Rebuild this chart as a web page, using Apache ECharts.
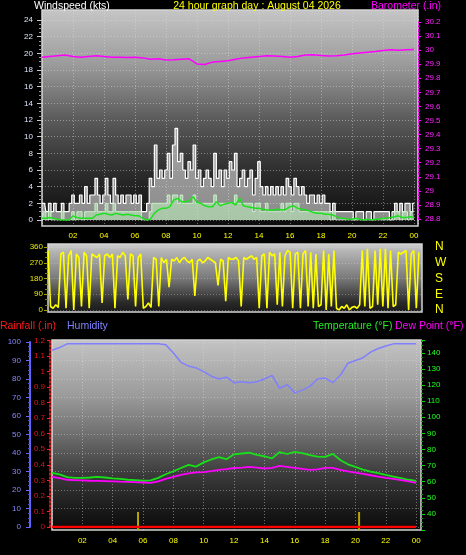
<!DOCTYPE html>
<html><head><meta charset="utf-8">
<script src="https://cdn.jsdelivr.net/npm/echarts@6/dist/echarts.min.js"></script>
<style>html,body{margin:0;padding:0;background:#000;}#c{width:466px;height:555px;}</style>
</head><body><div id="c"></div>
<script>
// ---------- data ----------
const hourLabels = ['02','04','06','08','10','12','14','16','18','20','22','00'];
const dirLetters = ['N','E','S','W','N'];
// wind gust (kts), every 10 minutes 00:00..24:00
const gust = [2,2,1,2,1,2, 1,1,2,1,1,2, 3,2,2,3,2,4, 2,3,3,5,3,2, 3,5,3,2,5,3, 2,3,2,3,3,2,
  3,2,3,1,1,2, 5,4,9,5,6,5, 6,8,5,9,11,7, 8,6,5,7,6,9, 5,6,4,5,6,5, 4,8,5,6,4,6,
  5,7,6,8,4,5, 6,4,5,6,3,5, 7,4,3,4,3,4, 3,4,3,4,3,5, 4,3,5,4,3,4, 3,2,3,3,2,3,
  2,3,2,2,1,2, 1,1,1,1,1,1, 1,0,1,1,1,0, 1,1,0,1,1,1, 1,1,1,0,1,2, 1,2,1,2,2,1,2];
// wind speed (kts), every 10 minutes
const speed = [0,1,0,1,0,0, 0,0,1,0,0,0, 1,0,1,1,0,1, 1,1,1,2,1,1, 1,2,1,1,2,1, 1,1,1,1,1,1,
  1,1,1,0,0,0, 1,2,2,2,2,2, 2,3,2,3,3,2, 3,2,2,2,2,3, 2,2,2,2,2,2, 2,3,2,2,2,2,
  2,2,2,3,2,2, 2,2,2,2,1,2, 2,1,1,2,1,1, 1,1,1,2,1,2, 2,1,2,2,1,1, 1,1,1,1,1,1,
  1,1,1,1,0,1, 0,0,0,0,0,0, 0,0,0,0,0,0, 0,0,0,0,0,0, 0,0,0,0,0,1, 1,0,1,1,0,1,1];
// average wind (kts), every 15 minutes
const avgWind = [0.2,0.2,0.3,0.2, 0.1,0,0,0, 0.5,0.3,0.2,0.2, 0.2,0.2,0.6,0.7, 0.8,0.7,0.6,0.8,
  0.7,0.6,0.7,0.6, 0.5,0.5,0.2,0, 0.1,0.8,1.2,1.4, 1.4,1.6,2.4,2.6, 2.2,2.2,2.3,2.8,
  2.1,2.0,1.7,1.6, 1.6,2.2,1.7,1.9, 2.0,2.1,1.8,2.6, 1.7,1.6,1.5,1.4, 1.4,1.3,1.2,1.2,
  1.2,1.3,1.2,1.3, 1.6,1.7,1.4,1.3, 1.2,1.1,0.9,0.8, 0.8,0.7,0.7,0.6, 0.4,0.2,0.2,0.1,
  0.1,0.2,0.1,0.0, 0.1,0.0,0.1,0.1, 0.2,0.2,0.3,0.4, 0.5,0.3,0.3,0.4, 0.3];
// barometer (in), every 30 minutes
const baro = [29.950,29.955,29.960,29.965,29.955,29.950,29.955,29.960,29.955,29.950,29.950,29.948,
  29.950,29.945,29.935,29.938,29.930,29.932,29.935,29.938,29.902,29.898,29.915,29.920,29.925,
  29.935,29.945,29.950,29.955,29.960,29.958,29.955,29.950,29.955,29.965,29.968,29.962,29.958,
  29.960,29.965,29.975,29.980,29.985,29.990,29.998,30.002,30.000,30.003,30.005];
// wind direction (deg), every 10 minutes
const windDir = [340,20,10,30,15,320, 330,10,310,340,0,320, 300,20,330,310,10,320, 310,300,320,40,310,320,
  300,320,10,310,300,330, 310,60,320,310,20,300, 320,10,20,40,15,300, 290,20,300,270,290,130,
  290,280,300,270,290,300, 280,270,290,80,280,290, 270,280,300,290,280,270, 140,290,280,50,300,290,
  290,300,280,20,300,290, 300,310,290,300,10,310, 320,10,330,310,320,30, 330,20,310,340,330,10,
  320,330,10,320,340,20, 330,10,320,20,30,340, 0,320,20,340,10,0, 20,10,30,0,15,20,
  10,30,340,20,350,10, 20,340,30,350,20,350, 10,340,20,30,330,320, 330,340,0,320,340,10,330];
// every 30 minutes
const humidity = [95.5,97,99,99,99,99,99,99,99,99,99,99,99,99,99,98.5,94,89,87,86,84,81.5,80,81,78,78.5,
  78,78.5,80,82,75,77,72.5,74,76,80,80.5,78,82,88.5,90,91.5,94.5,96.5,97.8,99,99,99,99];
const temperature = [65.5,64.5,62.8,62.4,62.4,62.6,63,62.6,62.0,61.7,61.2,61,60.6,60.8,62.4,64.6,66.5,68.5,
  70.4,69.4,72.0,73.8,75.2,74.0,77.0,77.5,78.0,76.6,75.8,74.5,78.4,77.2,78.5,77.8,76.5,75.6,75.4,77.3,
  73.5,70.8,69.2,67.5,66.2,65.3,64.2,63.2,62.2,61.2,60.5];
const dewPoint = [63.0,62.2,61.2,61.0,60.8,60.6,60.5,60.4,60.2,60.0,59.9,59.7,59.5,59.3,60.2,61.8,63.0,64.2,
  65.2,65.8,66.0,66.6,67.3,67.8,68.5,68.8,69.2,68.8,68.2,68.6,69.8,69.2,68.6,68.0,67.4,67.6,68.6,68.6,
  67.3,66.4,65.6,64.8,64.0,63.2,62.4,61.7,61.0,60.2,59.3];
const rainfall = [0,0,0,0,0,0,0,0,0,0,0,0,0,0,0,0,0,0,0,0,0,0,0,0,0,0,0,0,0,0,0,0,0,0,0,0,0,0,0,0,0,0,0,0,0,0,0,0,0];
const rainEventHours = [5.67, 20.24];
const rainEventValues = [0.095, 0.095];

// ---------- helpers ----------
const F = 'Liberation Sans';
const series10 = a => a.map((v,i)=>[i/6, v]);
const series15 = a => a.map((v,i)=>[i/4, v]);
const series30 = a => a.map((v,i)=>[i/2, v]);
function grad(stops){ return new echarts.graphic.LinearGradient(0,0,0,1, stops.map(s=>({offset:s[0], color:s[1]}))); }
const dotted = c => ({show:true, lineStyle:{color:c, type:[1,2], width:1}});
function hourFmt(v){
  const k = v/2;
  if (v < 1 || Math.abs(k - Math.round(k)) > 1e-6) return '';
  return hourLabels[Math.round(k)-1] || '';
}
const hidden = (g, mn, mx) => ({gridIndex:g, type:'value', min:mn, max:mx, show:false});

const P1 = {left:42, top:10, width:376, height:216};
const P2 = {left:48, top:244, width:374, height:68};
const P3 = {left:52, top:340, width:369, height:190};
const X1 = 24.26, X2 = 24.2, X3 = 24.32;

const chart = echarts.init(document.getElementById('c'), null, {renderer:'canvas'});
chart.setOption({
  backgroundColor:'#000',
  animation:false,
  textStyle:{fontFamily:F},
  grid:[
    Object.assign({show:true, backgroundColor:grad([[0,'#c6c6c6'],[0.25,'#9c9c9c'],[0.5,'#5c5c5c'],[0.75,'#2c2c2c'],[1,'#0c0c0c']]), borderColor:'#d4d4d4', borderWidth:1.5}, P1),
    {left:42, top:20, width:376, height:200},
    {left:42, top:22, width:376, height:197},
    Object.assign({show:true, backgroundColor:grad([[0,'#d0d0d0'],[0.12,'#b4b4b4'],[0.5,'#7a7a7a'],[0.85,'#2a2a2a'],[1,'#181818']]), borderColor:'#d4d4d4', borderWidth:1.5}, P2),
    {left:48, top:247, width:374, height:63},
    Object.assign({show:true, backgroundColor:grad([[0,'#c4c4c4'],[0.3,'#9a9a9a'],[0.5,'#6e6e6e'],[0.7,'#3c3c3c'],[0.9,'#181818'],[1,'#0a0a0a']]), borderColor:'#d4d4d4', borderWidth:1.5}, P3),
    {left:52, top:342, width:369, height:185},
    {left:52, top:340.4, width:369, height:186.6}
  ],
  xAxis:[
    {gridIndex:0, type:'value', min:0, max:X1, interval:2, axisLine:{show:false}, axisTick:{show:false},
     axisLabel:{color:'#ffff00', fontSize:8, margin:6, formatter:hourFmt},
     splitLine:dotted('rgba(225,225,225,0.45)')},
    hidden(1,0,X1), hidden(2,0,X1),
    {gridIndex:3, type:'value', min:0, max:X2, interval:2, axisLine:{show:false}, axisTick:{show:false}, axisLabel:{show:false}, splitLine:{show:false}},
    hidden(4,0,X2),
    {gridIndex:5, type:'value', min:0, max:X3, interval:2, axisLine:{show:false}, axisTick:{show:false},
     axisLabel:{color:'#ffff00', fontSize:8, margin:7, formatter:hourFmt},
     splitLine:dotted('rgba(225,225,225,0.45)')},
    hidden(6,0,X3), hidden(7,0,X3)
  ],
  yAxis:[
    hidden(0,0,1),
    {gridIndex:1, type:'value', min:0, max:24, interval:2, position:'left',
     axisLine:{show:false, onZero:false}, axisTick:{show:true, length:5, lineStyle:{color:'#c8c8c8'}},
     minorTick:{show:true, splitNumber:4, length:3, lineStyle:{color:'#9a9a9a'}},
     axisLabel:{color:'#dde6ff', fontSize:8, margin:9},
     splitLine:dotted('rgba(225,225,225,0.45)')},
    {gridIndex:2, type:'value', min:28.8, max:30.2, interval:0.1, position:'right',
     axisLine:{show:true, onZero:false, lineStyle:{color:'#ff00ff', type:[2,2], width:1}},
     axisTick:{show:true, length:3, lineStyle:{color:'#ff00ff'}},
     minorTick:{show:true, splitNumber:3, length:2, lineStyle:{color:'#c000c0'}},
     axisLabel:{color:'#ff22ff', fontSize:8, margin:7, formatter:v=>String(parseFloat(v.toFixed(1)))},
     splitLine:{show:false}},
    hidden(3,0,1),
    {gridIndex:4, type:'value', min:0, max:360, interval:90, position:'left',
     axisLine:{show:false, onZero:false}, axisTick:{show:true, length:4, lineStyle:{color:'#a0a000'}},
     minorTick:{show:true, splitNumber:3, length:3, lineStyle:{color:'#808000'}},
     axisLabel:{color:'#e6e600', fontSize:8, margin:5},
     splitLine:dotted('rgba(225,225,225,0.35)')},
    {gridIndex:4, type:'value', min:0, max:360, interval:90, position:'right',
     axisLine:{show:false, onZero:false}, axisTick:{show:false}, splitLine:{show:false},
     axisLabel:{color:'#ffff00', fontSize:12, margin:13, formatter:v=>dirLetters[Math.round(v/90)]}},
    {gridIndex:5, type:'value', min:30, max:148, interval:10, position:'right',
     axisLine:{show:true, onZero:false, lineStyle:{color:'#00ff00', type:[2,2], width:1}},
     axisTick:{show:true, length:4, lineStyle:{color:'#00dd00'}},
     minorTick:{show:true, splitNumber:4, length:2, lineStyle:{color:'#00aa00'}},
     axisLabel:{color:'#22ff22', fontSize:8, margin:6, formatter:v=>(v<35||v>145)?'':String(v)},
     splitLine:{show:false}},
    hidden(5,0,1),
    {gridIndex:6, type:'value', min:0, max:100, interval:10, position:'left', offset:22,
     axisLine:{show:true, onZero:false, lineStyle:{color:'#6464ff', width:2}},
     axisTick:{show:true, length:4, lineStyle:{color:'#6464ff'}},
     minorTick:{show:true, splitNumber:4, length:2, lineStyle:{color:'#5050d0'}},
     axisLabel:{color:'#8888ff', fontSize:8, margin:9},
     splitLine:dotted('rgba(225,225,225,0.4)')},
    {gridIndex:7, type:'value', min:0, max:1.2, interval:0.1, position:'left', offset:2,
     axisLine:{show:true, onZero:false, lineStyle:{color:'#ff2020', type:[2,2], width:1.5}},
     axisTick:{show:true, length:3, lineStyle:{color:'#ff2020'}},
     minorTick:{show:false},
     axisLabel:{color:'#ee1111', fontSize:8, margin:5, formatter:v=>String(parseFloat(v.toFixed(1)))},
     splitLine:{show:false}}
  ],
  series:[
    {name:'Gust', type:'line', xAxisIndex:1, yAxisIndex:1, step:'middle', symbol:'none', data:series10(gust),
     lineStyle:{color:'#ffffff', width:1.2}, areaStyle:{color:'rgba(238,238,238,0.8)'}},
    {name:'Speed', type:'line', xAxisIndex:1, yAxisIndex:1, step:'middle', symbol:'none', data:series10(speed),
     lineStyle:{color:'#c8f0c8', width:1}, areaStyle:{color:'rgba(190,238,190,0.85)'}},
    {name:'Average', type:'line', xAxisIndex:1, yAxisIndex:1, symbol:'none', data:series15(avgWind),
     lineStyle:{color:'#1ee01e', width:1.5}},
    {name:'Barometer', type:'line', xAxisIndex:2, yAxisIndex:2, symbol:'none', data:series30(baro),
     lineStyle:{color:'#ff00ff', width:1.5}},
    {name:'Direction', type:'line', xAxisIndex:4, yAxisIndex:4, symbol:'none', data:series10(windDir),
     lineStyle:{color:'#ffff00', width:1.6}},
    {name:'RainEvent', type:'bar', xAxisIndex:5, yAxisIndex:7, barWidth:2,
     data:rainEventHours.map((h,i)=>[h, rainEventValues[i]]), itemStyle:{color:'#b8a800'}},
    {name:'Humidity', type:'line', xAxisIndex:6, yAxisIndex:8, symbol:'none', data:series30(humidity),
     lineStyle:{color:'#8080ff', width:1.5}},
    {name:'Temperature', type:'line', xAxisIndex:5, yAxisIndex:6, symbol:'none', data:series30(temperature),
     lineStyle:{color:'#18e018', width:1.8}},
    {name:'Dew Point', type:'line', xAxisIndex:5, yAxisIndex:6, symbol:'none', data:series30(dewPoint),
     lineStyle:{color:'#ff00ff', width:1.8}},
    {name:'Rainfall', type:'line', xAxisIndex:7, yAxisIndex:9, symbol:'none', data:series30(rainfall),
     lineStyle:{color:'#ff0000', width:2.5}, z:5}
  ],
  graphic:[
    {type:'text', x:34, y:6, style:{text:'Windspeed (kts)', fill:'#ffffff', font:'10.5px '+F, textAlign:'left', textVerticalAlign:'middle', verticalAlign:'middle'}},
    {type:'text', x:257, y:6, style:{text:'24 hour graph day : August 04 2026', fill:'#ffff00', font:'10.5px '+F, textAlign:'center', textVerticalAlign:'middle', verticalAlign:'middle'}},
    {type:'text', x:441, y:6, style:{text:'Barometer (.in)', fill:'#ff00ff', font:'10.5px '+F, textAlign:'right', textVerticalAlign:'middle', verticalAlign:'middle'}},
    {type:'text', x:0, y:326, style:{text:'Rainfall (.in)', fill:'#ff1a1a', font:'10.5px '+F, textAlign:'left', textVerticalAlign:'middle', verticalAlign:'middle'}},
    {type:'text', x:67, y:326, style:{text:'Humidity', fill:'#8080ff', font:'10.5px '+F, textAlign:'left', textVerticalAlign:'middle', verticalAlign:'middle'}},
    {type:'text', x:313, y:326, style:{text:'Temperature (°F)', fill:'#22ee22', font:'10.5px '+F, textAlign:'left', textVerticalAlign:'middle', verticalAlign:'middle'}},
    {type:'text', x:395, y:326, style:{text:'Dew Point (°F)', fill:'#ff00ff', font:'10.5px '+F, textAlign:'left', textVerticalAlign:'middle', verticalAlign:'middle'}}
  ]
});
</script>
</body></html>
